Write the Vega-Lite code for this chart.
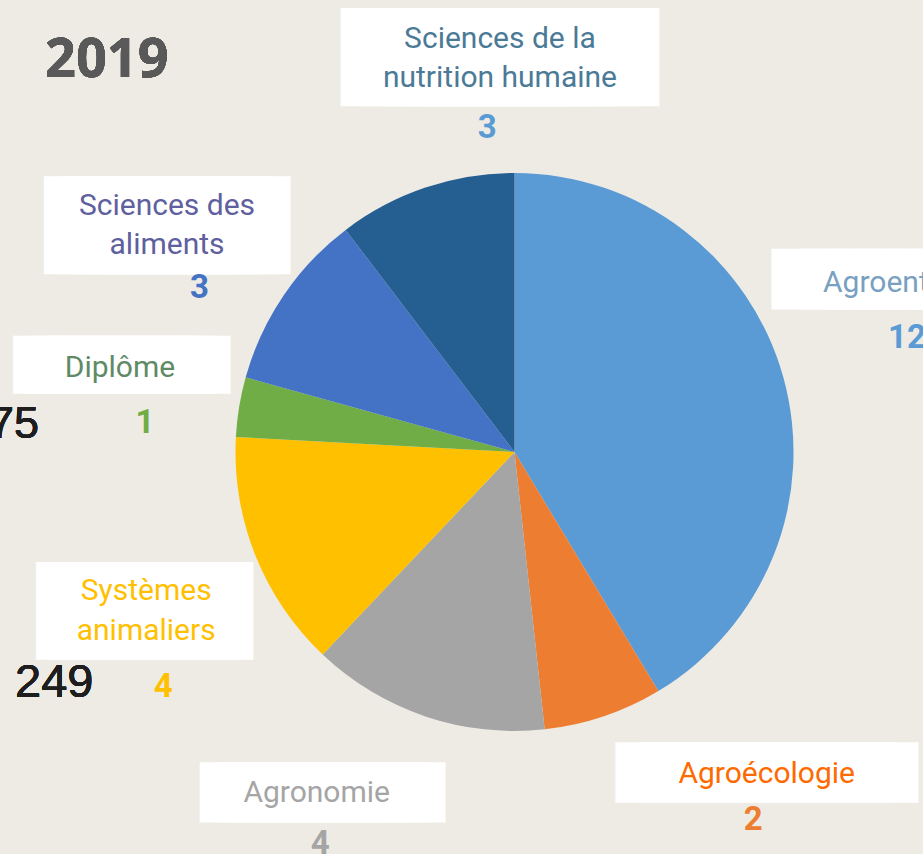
{
  "$schema": "https://vega.github.io/schema/vega-lite/v6.json",
  "width": 817,
  "height": 804,
  "padding": {"left": 106, "top": 50, "right": 0, "bottom": 0},
  "autosize": {"type": "none"},
  "background": "#EEEBE4",
  "data": {"values": [
    {"rank": 1, "category": "Agroentreprise", "value": 12},
    {"rank": 2, "category": "Agroécologie", "value": 2},
    {"rank": 3, "category": "Agronomie", "value": 4},
    {"rank": 4, "category": "Systèmes\nanimaliers", "value": 4},
    {"rank": 5, "category": "Diplôme", "value": 1},
    {"rank": 6, "category": "Sciences des\naliments", "value": 3},
    {"rank": 7, "category": "Sciences de la\nnutrition humaine", "value": 3}
  ]},
  "encoding": {
    "theta": {"field": "value", "type": "quantitative", "stack": true},
    "order": {"field": "rank", "type": "quantitative"}
  },
  "layer": [
    {"mark": {"type": "arc", "outerRadius": 279},
     "encoding": {"color": {"field": "category", "type": "nominal", "legend": null,
       "scale": {"domain": ["Agroentreprise", "Agroécologie", "Agronomie", "Systèmes\nanimaliers", "Diplôme", "Sciences des\naliments", "Sciences de la\nnutrition humaine"],
                 "range": ["#5B9BD5", "#ED7D31", "#A5A5A5", "#FFC000", "#70AD47", "#4472C4", "#255E91"]}}}},

    {"mark": {"type": "text", "radius": 400, "dx": -101.4, "dy": -50.1, "align": "left", "font": "DejaVu Sans Mono", "fontSize": 46, "fill": "white", "stroke": "white", "strokeWidth": 53, "strokeJoin": "miter"},
     "encoding": {"text": {"condition": {"test": "datum.rank === 1", "value": "━━━━━━━━━━"}, "value": ""}}},
    {"mark": {"type": "text", "radius": 400, "dx": 124.8, "dy": -44.4, "align": "center", "font": "DejaVu Sans Mono", "fontSize": 41.3, "fill": "white", "stroke": "white", "strokeWidth": 53.6, "strokeJoin": "miter"},
     "encoding": {"text": {"condition": {"test": "datum.rank === 2", "value": "━━━━━━━━━━"}, "value": ""}}},
    {"mark": {"type": "text", "radius": 400, "dx": -64.3, "dy": -28.1, "align": "center", "font": "DejaVu Sans Mono", "fontSize": 31.6, "fill": "white", "stroke": "white", "strokeWidth": 54.9, "strokeJoin": "miter"},
     "encoding": {"text": {"condition": {"test": "datum.rank === 3", "value": "━━━━━━━━━━"}, "value": ""}}},
    {"mark": {"type": "text", "radius": 400, "dx": 1.6, "dy": 17.5, "align": "center", "font": "DejaVu Sans Mono", "fontSize": 20.4, "fill": "white", "stroke": "white", "strokeWidth": 94.3, "strokeJoin": "miter"},
     "encoding": {"text": {"condition": {"test": "datum.rank === 4", "value": "━━━━━━━━━━"}, "value": ""}}},
    {"mark": {"type": "text", "radius": 400, "dx": 1.7, "dy": -13, "align": "center", "font": "DejaVu Sans Mono", "fontSize": 27.2, "fill": "white", "stroke": "white", "strokeWidth": 53.5, "strokeJoin": "miter"},
     "encoding": {"text": {"condition": {"test": "datum.rank === 5", "value": "━━━━━━━━━━"}, "value": ""}}},
    {"mark": {"type": "text", "radius": 400, "dx": -16.4, "dy": 6.8, "align": "center", "font": "DejaVu Sans Mono", "fontSize": 25.3, "fill": "white", "stroke": "white", "strokeWidth": 93.7, "strokeJoin": "miter"},
     "encoding": {"text": {"condition": {"test": "datum.rank === 6", "value": "━━━━━━━━━━"}, "value": ""}}},
    {"mark": {"type": "text", "radius": 400, "dx": 113.2, "dy": -3.3, "align": "center", "font": "DejaVu Sans Mono", "fontSize": 37.5, "fill": "white", "stroke": "white", "strokeWidth": 92.1, "strokeJoin": "miter"},
     "encoding": {"text": {"condition": {"test": "datum.rank === 7", "value": "━━━━━━━━━━"}, "value": ""}}},

    {"mark": {"type": "text", "radius": 400, "dx": -76.9, "dy": -53, "align": "left", "font": "Roboto", "fontSize": 30, "fill": "#78A0C0", "lineBreak": "\n", "lineHeight": 39},
     "encoding": {"text": {"condition": {"test": "datum.rank === 1", "field": "category", "type": "nominal"}, "value": ""}}},
    {"mark": {"type": "text", "radius": 400, "dx": 124.5, "dy": -47.8, "align": "center", "font": "Roboto", "fontSize": 30, "fill": "#FF6A00", "lineBreak": "\n", "lineHeight": 39},
     "encoding": {"text": {"condition": {"test": "datum.rank === 2", "field": "category", "type": "nominal"}, "value": ""}}},
    {"mark": {"type": "text", "radius": 400, "dx": -70.1, "dy": -28.8, "align": "center", "font": "Roboto", "fontSize": 30, "fill": "#A5A5A5", "lineBreak": "\n", "lineHeight": 39},
     "encoding": {"text": {"condition": {"test": "datum.rank === 3", "field": "category", "type": "nominal"}, "value": ""}}},
    {"mark": {"type": "text", "radius": 400, "dx": 3.3, "dy": 0, "align": "center", "font": "Roboto", "fontSize": 30, "fill": "#FFC000", "lineBreak": "\n", "lineHeight": 39.5},
     "encoding": {"text": {"condition": {"test": "datum.rank === 4", "field": "category", "type": "nominal"}, "value": ""}}},
    {"mark": {"type": "text", "radius": 400, "dx": 0.2, "dy": -10.6, "align": "center", "font": "Roboto", "fontSize": 30, "fill": "#5E8B66", "lineBreak": "\n", "lineHeight": 39},
     "encoding": {"text": {"condition": {"test": "datum.rank === 5", "field": "category", "type": "nominal"}, "value": ""}}},
    {"mark": {"type": "text", "radius": 400, "dx": -16.4, "dy": -12.5, "align": "center", "font": "Roboto", "fontSize": 30, "fill": "#5F609E", "lineBreak": "\n", "lineHeight": 39},
     "encoding": {"text": {"condition": {"test": "datum.rank === 6", "field": "category", "type": "nominal"}, "value": ""}}},
    {"mark": {"type": "text", "radius": 400, "dx": 113.2, "dy": -24.9, "align": "center", "font": "Roboto", "fontSize": 30, "fill": "#4B7A97", "lineBreak": "\n", "lineHeight": 39},
     "encoding": {"text": {"condition": {"test": "datum.rank === 7", "field": "category", "type": "nominal"}, "value": ""}}},

    {"mark": {"type": "text", "radius": 400, "dx": 7.1, "dy": 3, "align": "center", "font": "Roboto", "fontSize": 33, "fontWeight": "bold", "fill": "#5B9BD5"},
     "encoding": {"text": {"condition": {"test": "datum.rank === 1", "field": "value", "type": "quantitative"}, "value": ""}}},
    {"mark": {"type": "text", "radius": 400, "dx": 111.1, "dy": -1.1, "align": "center", "font": "Roboto", "fontSize": 33, "fontWeight": "bold", "fill": "#ED7D31"},
     "encoding": {"text": {"condition": {"test": "datum.rank === 2", "field": "value", "type": "quantitative"}, "value": ""}}},
    {"mark": {"type": "text", "radius": 400, "dx": -66.5, "dy": 22.9, "align": "center", "font": "Roboto", "fontSize": 33, "fontWeight": "bold", "fill": "#A5A5A5"},
     "encoding": {"text": {"condition": {"test": "datum.rank === 3", "field": "value", "type": "quantitative"}, "value": ""}}},
    {"mark": {"type": "text", "radius": 400, "dx": 20.4, "dy": 97.3, "align": "center", "font": "Roboto", "fontSize": 33, "fontWeight": "bold", "fill": "#FFC000"},
     "encoding": {"text": {"condition": {"test": "datum.rank === 4", "field": "value", "type": "quantitative"}, "value": ""}}},
    {"mark": {"type": "text", "radius": 400, "dx": 25.2, "dy": 45.7, "align": "center", "font": "Roboto", "fontSize": 33, "fontWeight": "bold", "fill": "#70AD47"},
     "encoding": {"text": {"condition": {"test": "datum.rank === 5", "field": "value", "type": "quantitative"}, "value": ""}}},
    {"mark": {"type": "text", "radius": 400, "dx": 16.1, "dy": 70.5, "align": "center", "font": "Roboto", "fontSize": 33, "fontWeight": "bold", "fill": "#4472C4"},
     "encoding": {"text": {"condition": {"test": "datum.rank === 6", "field": "value", "type": "quantitative"}, "value": ""}}},
    {"mark": {"type": "text", "radius": 400, "dx": 100.5, "dy": 65.4, "align": "center", "font": "Roboto", "fontSize": 33, "fontWeight": "bold", "fill": "#5B9BD5"},
     "encoding": {"text": {"condition": {"test": "datum.rank === 7", "field": "value", "type": "quantitative"}, "value": ""}}},

    {"mark": {"type": "text", "x": -61, "y": 27, "align": "left", "baseline": "alphabetic", "font": "Open Sans", "fontSize": 54, "fontWeight": "bold", "fill": "#595959", "text": "2019"}, "encoding": {}},
    {"mark": {"type": "text", "x": -67, "y": 388, "align": "right", "baseline": "alphabetic", "font": "Liberation Sans", "fontSize": 45, "fill": "#1E1E1E", "text": "75"}, "encoding": {}},
    {"mark": {"type": "text", "x": -91, "y": 647, "align": "left", "baseline": "alphabetic", "font": "Liberation Sans", "fontSize": 47, "fill": "#1E1E1E", "text": "249"}, "encoding": {}}
  ],
  "config": {"view": {"stroke": null}, "text": {"baseline": "alphabetic"}}
}
